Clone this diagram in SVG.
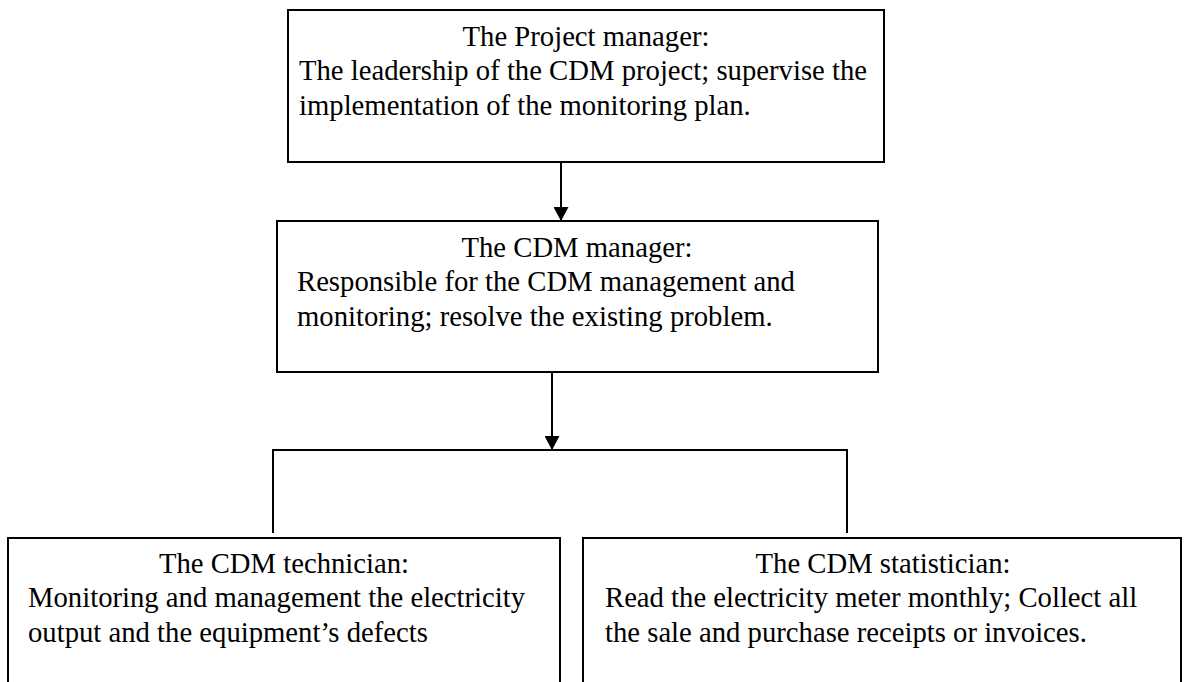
<svg xmlns="http://www.w3.org/2000/svg" width="1184" height="682" viewBox="0 0 1184 682">
  <defs>
    <style>
      .box { fill: #ffffff; stroke: #000000; stroke-width: 2; }
      .lbl { font-family: "Liberation Serif", "Times New Roman", serif; font-size: 28.7px; fill: #000000; }
      .mid { text-anchor: middle; }
      .wire { fill: none; stroke: #000000; stroke-width: 2; }
    </style>
    <marker id="arrow" viewBox="0 0 14 15" refX="14" refY="7.5" markerWidth="14" markerHeight="15" markerUnits="userSpaceOnUse" orient="auto">
      <path d="M0,0 L14,7.5 L0,15 z" fill="#000000"/>
    </marker>
  </defs>
  <rect width="1184" height="682" fill="#ffffff"/>

  <g id="project-manager">
    <rect class="box" x="288" y="10" width="596" height="152"/>
    <text class="lbl mid" x="586" y="46">The Project manager:</text>
    <text class="lbl" x="299" y="80">The leadership of the CDM project; supervise the</text>
    <text class="lbl" x="299" y="115">implementation of the monitoring plan.</text>
  </g>

  <g id="cdm-manager">
    <rect class="box" x="277" y="221" width="601" height="151"/>
    <text class="lbl mid" x="577" y="257">The CDM manager:</text>
    <text class="lbl" x="297" y="291">Responsible for the CDM management and</text>
    <text class="lbl" x="297" y="326">monitoring; resolve the existing problem.</text>
  </g>

  <g id="cdm-technician">
    <rect class="box" x="8" y="538" width="552" height="160"/>
    <text class="lbl mid" x="284" y="573">The CDM technician:</text>
    <text class="lbl" x="28" y="607">Monitoring and management the electricity</text>
    <text class="lbl" x="28" y="642">output and the equipment’s defects</text>
  </g>

  <g id="cdm-statistician">
    <rect class="box" x="583" y="538" width="598" height="160"/>
    <text class="lbl mid" x="883" y="573">The CDM statistician:</text>
    <text class="lbl" x="605" y="607">Read the electricity meter monthly; Collect all</text>
    <text class="lbl" x="605" y="642">the sale and purchase receipts or invoices.</text>
  </g>

  <g id="connectors">
    <line class="wire" x1="561" y1="162" x2="561" y2="221" marker-end="url(#arrow)"/>
    <line class="wire" x1="552" y1="372" x2="552" y2="450" marker-end="url(#arrow)"/>
    <polyline class="wire" points="273,533 273,450 847,450 847,533"/>
  </g>
</svg>
